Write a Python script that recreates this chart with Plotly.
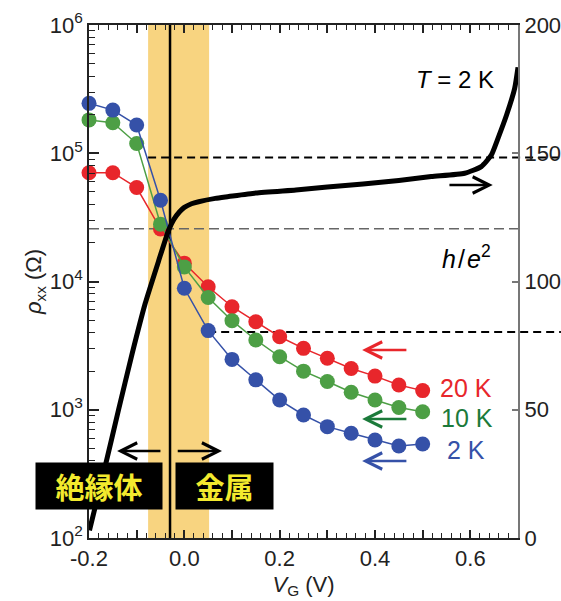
import plotly.graph_objects as go
import math

# Gate voltage sweep points for the temperature-dependent rho_xx data (V)
vg_points = [-0.2, -0.15, -0.1, -0.05, 0.0, 0.05, 0.1, 0.15, 0.2, 0.25, 0.3, 0.35, 0.4, 0.45, 0.5]

# rho_xx (Ohm) at each temperature
rho_20K = [70500, 70500, 54000, 25700, 13900, 9100, 6360, 4860, 3710, 3010, 2520, 2100, 1830, 1560, 1410]
rho_10K = [182000, 173000, 119000, 28000, 13000, 7500, 4950, 3500, 2590, 2000, 1660, 1370, 1190, 1040, 966]
rho_2K = [245000, 217000, 166000, 43000, 8850, 4140, 2470, 1710, 1190, 910, 738, 655, 581, 521, 541]

# Continuous 2 K sweep (right axis)
vg_sweep = [-0.199, -0.166, -0.138, -0.110, -0.082, -0.054, -0.033, -0.022, -0.010, 0.0, 0.015, 0.03, 0.065,
            0.093, 0.15, 0.234, 0.3, 0.375, 0.45, 0.518, 0.588, 0.623, 0.644, 0.658, 0.676, 0.693, 0.70]
sweep_2K = [3.0, 28.0, 50.0, 71.5, 91.5, 108.0, 120.0, 124.2, 127.2, 128.9, 130.3, 131.1, 132.4,
            133.1, 134.5, 135.7, 136.8, 138.0, 139.4, 140.9, 142.2, 144.8, 149.3, 155.8, 164.9, 175.3, 183.5]

# Reference levels
H_OVER_E2 = 25812.8          # resistance quantum h/e^2 (Ohm)
upper_level = 148.3          # right-axis level
lower_level = 80.3           # right-axis level
band_range = (-0.076, 0.052) # transition window in V_G
vg_transition = -0.03

x_tickvals = [-0.2, -0.1, 0.0, 0.1, 0.2, 0.3, 0.4, 0.5, 0.6, 0.7]
x_ticktext = ["-0.2", "", "0.0", "", "0.2", "", "0.4", "", "0.6", ""]
y_tickvals = [1e2, 1e3, 1e4, 1e5, 1e6]
y_ticktext = ["10<sup>2</sup>", "10<sup>3</sup>", "10<sup>4</sup>", "10<sup>5</sup>", "10<sup>6</sup>"]
y2_tickvals = [0, 50, 100, 150, 200]

RED = "#e8262b"
GREEN = "#4d9f45"
GREEN_DARK = "#1b7a3a"
BLUE = "#3551a8"
BAND = "#f8d480"
FONT = "Liberation Sans, Arial, sans-serif"

X_MIN, X_MAX = -0.2, 0.7
Y2_MAX = 200.0


def xpaper(v):
    return (v - X_MIN) / (X_MAX - X_MIN)


fig = go.Figure()

for vals, col in [(rho_20K, RED), (rho_10K, GREEN), (rho_2K, BLUE)]:
    fig.add_trace(go.Scatter(
        x=vg_points, y=vals, mode="lines+markers",
        line=dict(color=col, width=1.5),
        marker=dict(color=col, size=15, line=dict(width=0)),
        cliponaxis=False, yaxis="y", hoverinfo="skip"))

fig.add_trace(go.Scatter(
    x=vg_sweep, y=sweep_2K, mode="lines",
    line=dict(color="black", width=5, shape="spline", smoothing=0.5),
    yaxis="y2", hoverinfo="skip"))

shapes = [
    dict(type="rect", xref="x", yref="paper", x0=band_range[0], x1=band_range[1], y0=0, y1=1,
         fillcolor=BAND, line=dict(width=0), layer="below"),
    dict(type="line", xref="paper", yref="paper", x0=0, x1=1,
         y0=(math.log10(H_OVER_E2) - 2) / 4, y1=(math.log10(H_OVER_E2) - 2) / 4,
         line=dict(color="#666666", width=1.6, dash="10px,5px"), layer="below"),
    dict(type="line", xref="paper", yref="paper", x0=xpaper(band_range[0]), x1=1.1,
         y0=upper_level / Y2_MAX, y1=upper_level / Y2_MAX,
         line=dict(color="black", width=2, dash="8px,5px"), layer="below"),
    dict(type="line", xref="paper", yref="paper", x0=xpaper(0.05), x1=1.1,
         y0=lower_level / Y2_MAX, y1=lower_level / Y2_MAX,
         line=dict(color="black", width=2, dash="8px,5px"), layer="below"),
    dict(type="line", xref="x", yref="paper", x0=vg_transition, x1=vg_transition, y0=0, y1=1,
         line=dict(color="black", width=2.5), layer="below"),
]


def arrow(x_tail, x_tip, y, color):
    return dict(x=x_tip, y=y, ax=x_tail, ay=y, xref="x", yref="y2", axref="x", ayref="y2",
                text="", showarrow=True, arrowhead=5, arrowsize=1.35, arrowwidth=2.4,
                arrowcolor=color, standoff=0, startstandoff=0)


annotations = [
    arrow(0.469, 0.373, 73.3, RED),
    arrow(0.469, 0.373, 46.4, GREEN_DARK),
    arrow(0.469, 0.373, 30.0, BLUE),
    arrow(0.553, 0.647, 137.6, "black"),
    arrow(-0.047, -0.141, 33.9, "black"),
    arrow(-0.017, 0.079, 33.9, "black"),
    dict(x=0.568, y=178.6, xref="x", yref="y2", text="<i>T</i> = 2 K", showarrow=False,
         font=dict(size=24, color="black", family=FONT)),
    dict(x=0.591, y=109.6, xref="x", yref="y2", text="<i>h</i>\u200a/\u200a<i>e</i><sup>2</sup>", showarrow=False,
         font=dict(size=25, color="black", family=FONT)),
    dict(x=0.591, y=58.5, xref="x", yref="y2", text="20 K", showarrow=False,
         font=dict(size=25, color=RED, family=FONT)),
    dict(x=0.593, y=46.8, xref="x", yref="y2", text="10 K", showarrow=False,
         font=dict(size=25, color=GREEN_DARK, family=FONT)),
    dict(x=0.591, y=34.3, xref="x", yref="y2", text="2 K", showarrow=False,
         font=dict(size=25, color=BLUE, family=FONT)),
    dict(x=-0.179, y=20.3, xref="x", yref="y2", text="<b>絶縁体</b>", showarrow=False,
         bgcolor="black", width=126, height=46, borderpad=0,
         font=dict(size=29, color="#f3ea2e", family="Noto Sans CJK JP")),
    dict(x=0.0843, y=20.3, xref="x", yref="y2", text="<b>金属</b>", showarrow=False,
         bgcolor="black", width=97, height=46, borderpad=0,
         font=dict(size=29, color="#f3ea2e", family="Noto Sans CJK JP")),
]

minor_log = [k * 10 ** n for n in range(2, 6) for k in range(2, 10)]

fig.update_layout(
    width=561, height=601,
    margin=dict(l=89, r=43, t=25, b=63, autoexpand=False),
    plot_bgcolor="white", paper_bgcolor="white",
    showlegend=False,
    font=dict(family=FONT, size=22, color="#222"),
    shapes=shapes, annotations=annotations,
    xaxis=dict(
        range=[X_MIN, X_MAX], tickvals=x_tickvals, ticktext=x_ticktext,
        ticks="inside", ticklen=8, tickwidth=1.5, tickcolor="#222",
        showline=True, linecolor="#222", linewidth=1.5, mirror="ticks",
        showgrid=False, zeroline=False, automargin=False,
        minor=dict(tick0=0, dtick=0.02, ticks="inside", ticklen=5, tickwidth=1, tickcolor="#222", showgrid=False),
        title=dict(text="<i>V</i><sub>G</sub> (V)", standoff=6, font=dict(size=22)),
        tickfont=dict(size=22, color="#222"),
    ),
    yaxis=dict(
        type="log", range=[2, 6], tickvals=y_tickvals, ticktext=y_ticktext,
        ticks="inside", ticklen=10, tickwidth=1.5, tickcolor="#222",
        showline=True, linecolor="#222", linewidth=1.5,
        showgrid=False, zeroline=False, automargin=False,
        minor=dict(tickmode="array", tickvals=minor_log, ticks="inside", ticklen=6, tickwidth=1,
                   tickcolor="#222", showgrid=False),
        title=dict(text="<i>ρ</i><sub>xx</sub> (Ω)", standoff=2, font=dict(size=22)),
        tickfont=dict(size=22, color="#222"),
    ),
    yaxis2=dict(
        overlaying="y", side="right", range=[0, Y2_MAX], tickvals=y2_tickvals,
        ticks="inside", ticklen=6, tickwidth=1.5, tickcolor="#777",
        showline=True, linecolor="#777", linewidth=2,
        showgrid=False, zeroline=False, automargin=False,
        tickfont=dict(size=22, color="#222"),
    ),
)

fig.write_html("out.html")
